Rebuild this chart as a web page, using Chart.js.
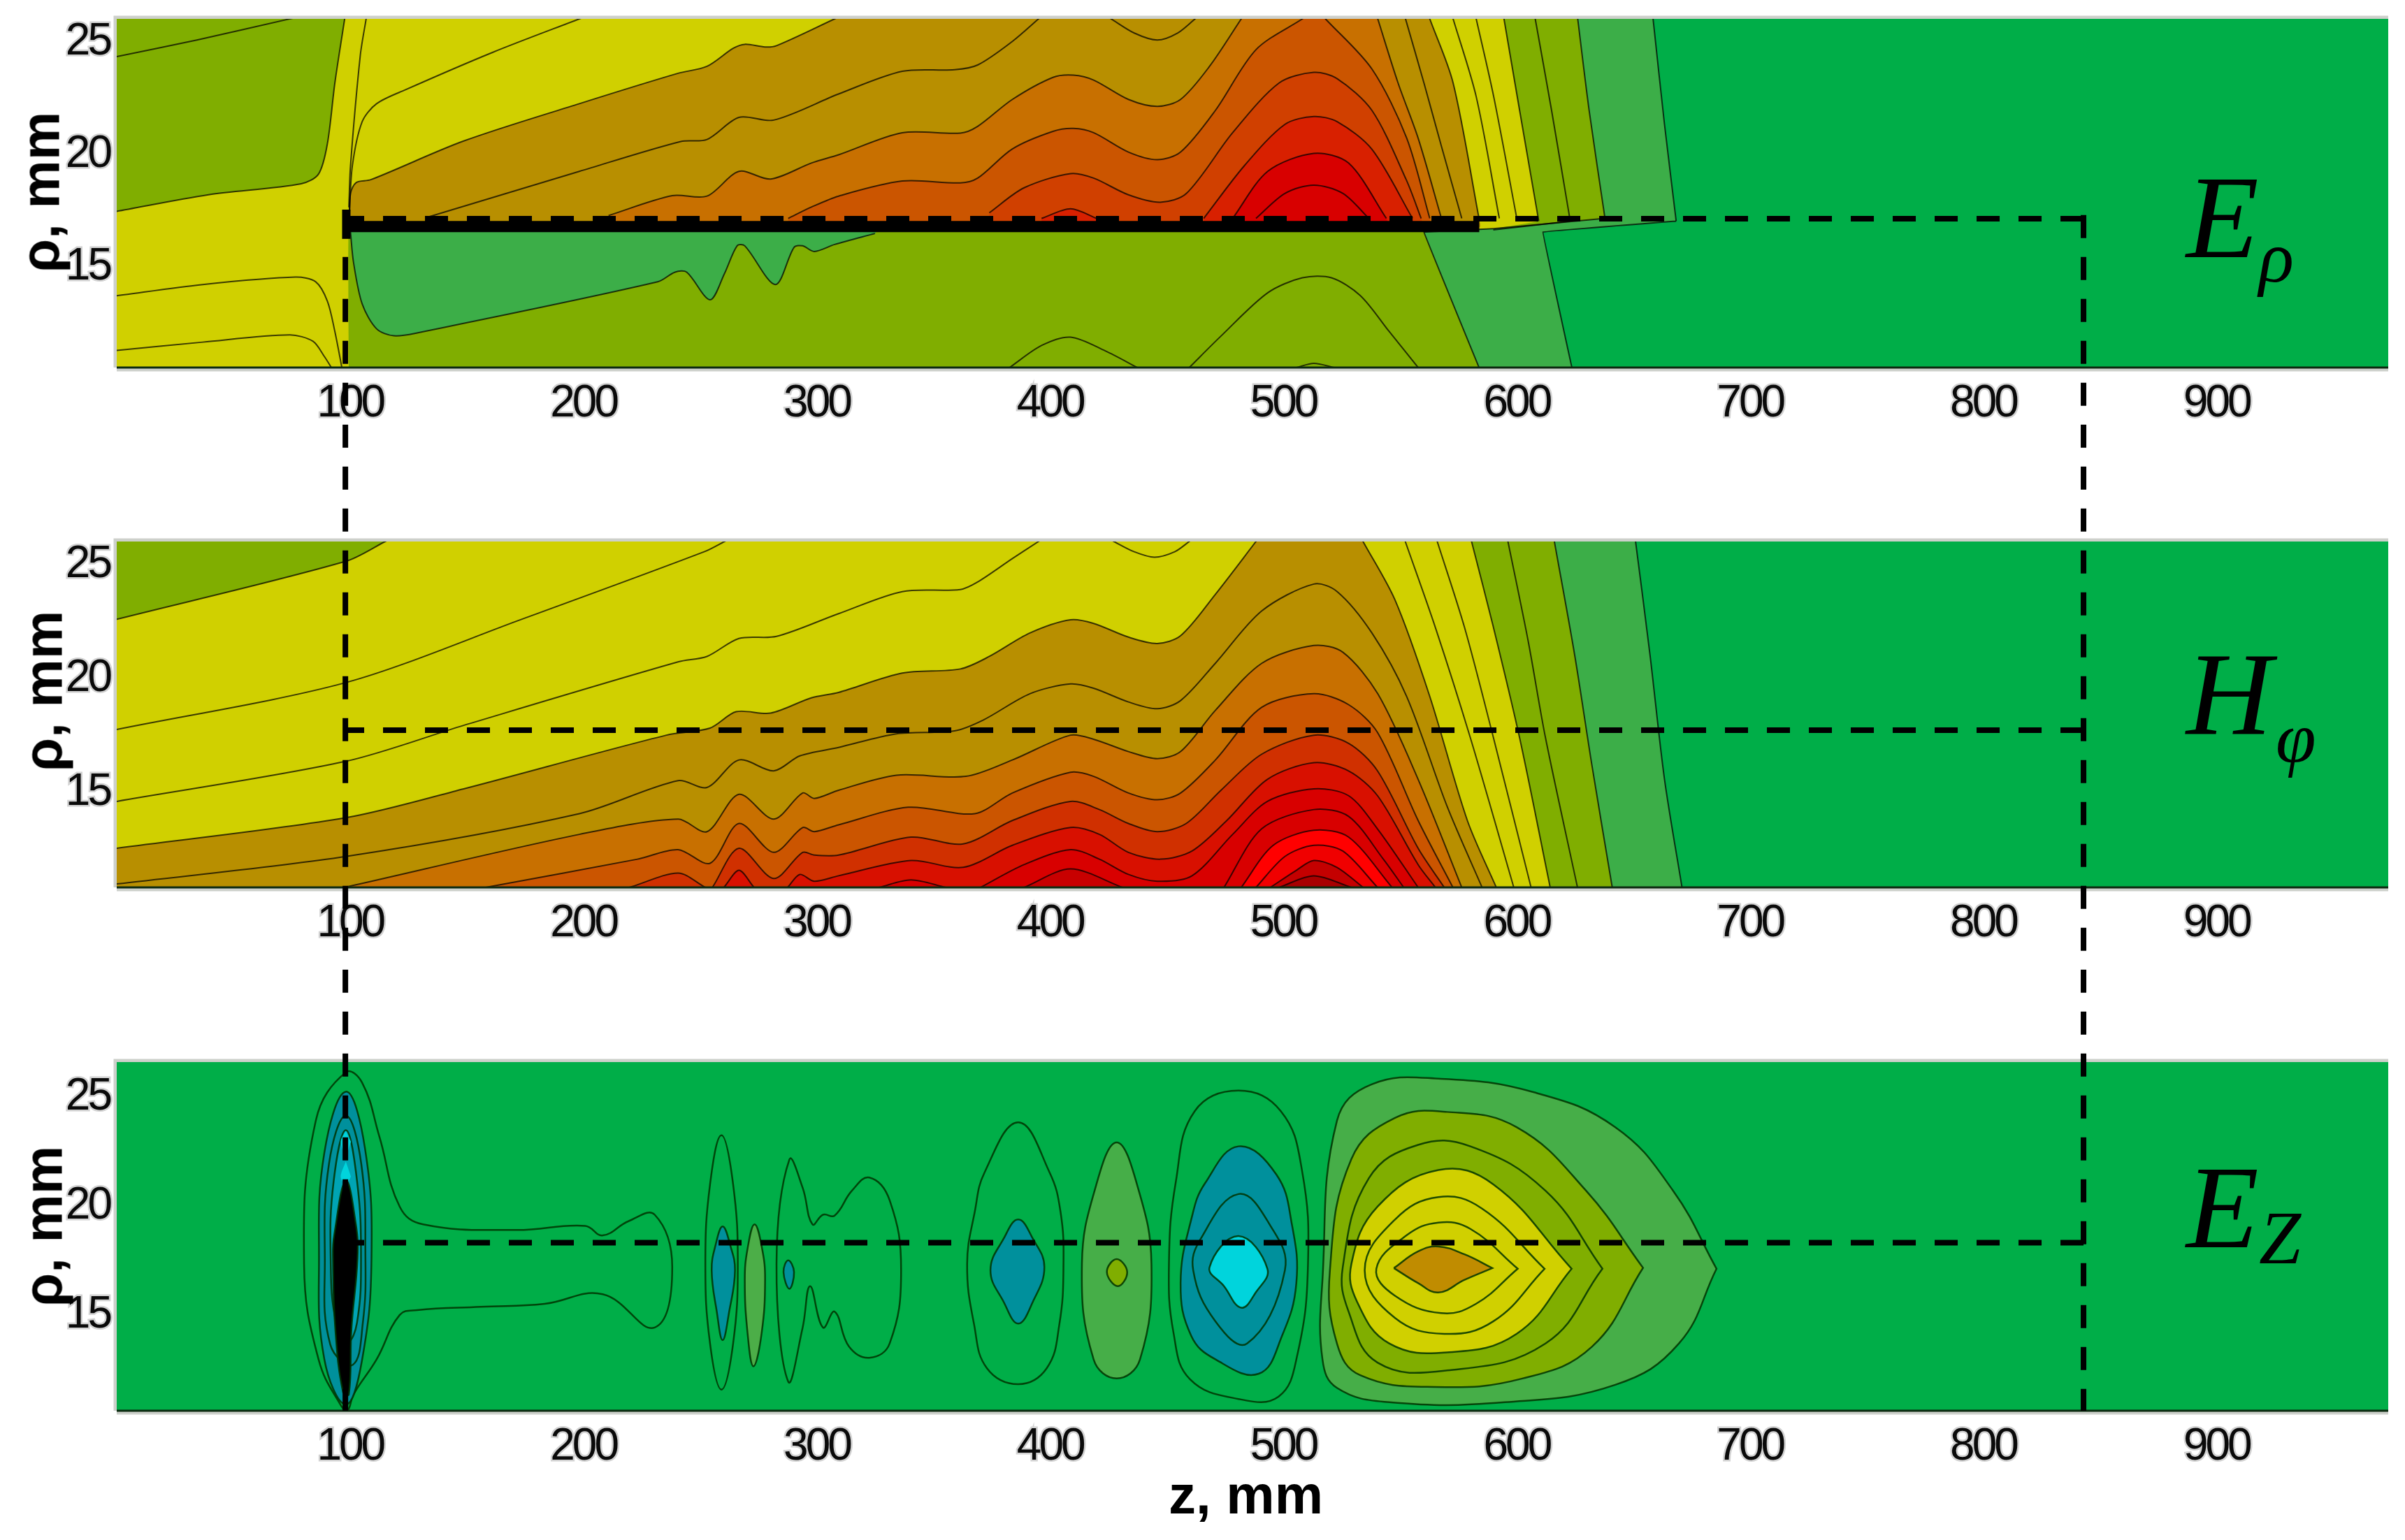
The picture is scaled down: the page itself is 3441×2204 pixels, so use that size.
<!DOCTYPE html>
<html>
<head>
<meta charset="utf-8">
<title>E and H field contours</title>
<script src="https://cdn.jsdelivr.net/npm/chart.js@4/dist/chart.umd.min.js"></script>
<style>
	html, body { margin: 0; padding: 0; background: #fff; }
	body { position: relative; width: 3441px; height: 2204px; overflow: hidden; }
	canvas { position: absolute; left: 0; }
	.lbl { position: absolute; white-space: nowrap; color: #000; line-height: 1; }
	.ttl { font: bold 78px "Liberation Sans", Arimo, sans-serif; transform: translate(-50%, -50%) rotate(-90deg); }
	.sym { font-family: "Liberation Serif", serif; font-style: italic; z-index: 6; }
</style>
</head>
<body>
<canvas id="guides" width="3441" height="2204" style="top:0;z-index:5"></canvas>
<canvas id="chart-er" width="3441" height="609" style="top:7px"></canvas>
<canvas id="chart-hf" width="3441" height="605" style="top:755px"></canvas>
<canvas id="chart-ez" width="3441" height="609" style="top:1500px"></canvas>

<div class="lbl ttl" style="left:58px;top:275px">ρ, mm</div>
<div class="lbl ttl" style="left:62px;top:989px">ρ, mm</div>
<div class="lbl ttl" style="left:62px;top:1755px">ρ, mm</div>
<div class="lbl" style="left:1672px;top:2094px;font:bold 78px 'Liberation Sans',sans-serif">z, mm</div>

<div class="lbl sym" style="left:3128px;top:226px;font-size:170px">E</div>
<div class="lbl sym" style="left:3232px;top:316px;font-size:104px">ρ</div>
<div class="lbl sym" style="left:3128px;top:908px;font-size:170px">H</div>
<div class="lbl sym" style="left:3256px;top:1004px;font-size:104px">φ</div>
<div class="lbl sym" style="left:3128px;top:1643px;font-size:170px">E</div>
<div class="lbl sym" style="left:3232px;top:1718px;font-size:108px">Z</div>

<script>
'use strict';

const zTicks = [100, 200, 300, 400, 500, 600, 700, 800, 900];
const rhoTicks = [15, 20, 25];
const zMax = 973.6;

// Level colours, from the outside of the field to the peak
const cGreen = '#00ae48';
const cMid = '#3cae48';
const cOlive = '#80ae00';
const cYellow = '#d0d000';
const cBrown = '#b88f00';
const cOrange = '#c87000';
const cBurnt = '#cb5500';
const cScarlet = '#d03000';
const cVermil = '#d81000';
const cRed = '#d80000';
const cBright = '#ff0000';
const cDeep = '#c40000';
const cDark = '#a80000';
const cTeal = '#00909c';
const cTeal2 = '#00a4b4';
const cCyan = '#00d4dc';

// ---- E rho: contours as [z, rho] ----
const erThin = [[0, 24.2], [34.4, 24.94], [73.4, 25.86]];
const erOliveEdge = [[0, 17.32], [39.3, 18.06], [79.1, 18.55], [86.5, 18.98], [90.3, 20.33], [93.5, 23.03], [97.7, 25.88]];
const erLowA = [[0, 13.57], [36.9, 14.07], [76.6, 14.4], [85.3, 14.19], [90.3, 13.33], [93.5, 11.98], [96.5, 10.38]];
const erLowB = [[0, 11.14], [36.9, 11.51], [74.1, 11.83], [84.1, 11.55], [89, 10.87], [92, 10.38]];
const erNearA = [[99.5, 17.5], [100.2, 19.35], [104.4, 24.26], [106.9, 25.88]];
const erNearB = [[99.7, 17.14], [101, 19.35], [105.2, 21.31], [111.4, 22.11], [123.8, 22.73], [161.1, 24.39], [198.3, 25.88]];
const erLevel1 = [[99.7, 17.01], [100.2, 18.12], [102.7, 18.61], [108.9, 18.73], [148.7, 20.45], [198.3, 22.11], [240.6, 23.46], [253, 23.77], [264.2, 24.57], [269.2, 24.75], [277.9, 24.63], [282.8, 24.69], [307.7, 25.88]];
const erLevel2 = [[133.8, 17.08], [198.3, 19.1], [241.8, 20.43], [253, 20.52], [266.7, 21.5], [281.6, 21.38], [309.4, 22.54], [336.7, 23.55], [359.1, 23.62], [369, 23.83], [383.9, 24.88], [395.1, 25.88]];
const erDip = [[426.2, 25.88], [436.1, 25.25], [446, 24.94], [454.7, 25.25], [462.2, 25.88]];
const erLevel3 = [[210.8, 17.14], [238.1, 18.02], [253, 18], [266.7, 19.1], [280.3, 18.76], [297.7, 19.47], [309.4, 19.84], [336.7, 20.82], [361.6, 20.8], [369, 21.1], [383.9, 22.3], [401.3, 23.28], [410, 23.38], [418.7, 23.16], [433.6, 22.3], [446, 21.99], [456, 22.3], [468.4, 23.77], [482, 25.88]];
const erLevel4 = [[287.8, 17.01], [297.7, 17.51], [309.4, 18], [336.7, 18.67], [361.6, 18.59], [369, 18.8], [383.9, 20.1], [401.3, 20.88], [410, 21.01], [418.7, 20.82], [433.6, 19.96], [446, 19.62], [456, 19.96], [470.9, 21.81], [488.3, 24.51], [508.2, 25.88]];
const erLevel5 = [[374, 17.26], [388.9, 18.37], [408.8, 19], [418.7, 18.8], [433.6, 18.06], [447.3, 17.73], [458.5, 18.12], [478.3, 20.82], [498.2, 23.03], [513.1, 23.5], [523.1, 23.22], [538, 21.81], [552.7, 18.73], [559.1, 17.01]];
const erLevel6 = [[465.9, 17.01], [483.3, 19.35], [500.7, 21.19], [513.1, 21.54], [523.1, 21.31], [538, 20.08], [555.4, 17.01]];
const erLevel6b = [[396.4, 17.01], [408.8, 17.44], [420, 17.01]];
const erLevel7 = [[478.3, 17.01], [493.3, 19.1], [513.1, 19.9], [528, 19.47], [544.2, 17.01]];
const erLevel8 = [[488.3, 17.01], [500.7, 18.12], [513.1, 18.49], [525.6, 18.12], [536.7, 17.01]];
const erFall4 = [[518.1, 25.88], [538, 23.65], [552.9, 20.58], [562.8, 17.01]];
const erFall3 = [[540.5, 25.88], [549.2, 23.03], [557.8, 20.58], [567.8, 17.01]];
const erFall2 = [[552.4, 25.88], [560.3, 23.03], [567.8, 20.21], [576.5, 17.01]];
const erFall1 = [[562.8, 25.88], [572.8, 23.03], [583.9, 17.01]];
const erFallY1 = [[572.8, 25.88], [582.7, 22.42], [592.6, 17.01]];
const erFallY2 = [[582.7, 25.88], [590.2, 22.42], [600.1, 17.01]];
const erFallY3 = [[594.6, 25.88], [601.3, 21.81], [609.5, 16.89]];
const erFallO1 = [[608, 25.88], [615, 21.81], [623, 16.89]];
const erFallO2 = [[626.2, 25.88], [631.1, 21.81], [637.9, 17.01]];
const erFallM = [[658.5, 25.88], [663.4, 21.19], [668.4, 16.89]];
const erKneeM = [[668.4, 16.89], [611.3, 16.4], [623.7, 10.38]];
const erKneeO = [[637.9, 17.01], [590, 16.55], [560.3, 16.4], [583.9, 10.38]];
const erKneeY = [[623, 16.89], [590, 16.5]];
const erYellowFoot = [[590, 16.55], [99.5, 16.55], [99.5, 10.38]];
const erLowMid = [[100.2, 16.4], [101.5, 15.05], [105.2, 13.21], [111.4, 12.1], [118.8, 11.79], [128.8, 11.92], [231.9, 14.19], [239.3, 14.62], [244.3, 14.62], [254.3, 13.39], [260.5, 14.56], [265.9, 15.79], [269.2, 15.79], [282.3, 14.07], [290.3, 15.72], [294, 15.79], [299, 15.54], [307.7, 15.85], [325, 16.34]];
const erLowMidTop = [[325, 16.6], [100, 16.6]];
const erBump = [[382.7, 10.38], [396.4, 11.36], [408.8, 11.73], [423.7, 11.12], [437.4, 10.38]];
const erArch = [[459.7, 10.38], [473.4, 11.79], [493.3, 13.7], [508.2, 14.37], [520.6, 14.37], [533, 13.58], [545.4, 11.98], [557.8, 10.38]];
const erTiny = [[505.7, 10.38], [513.1, 10.57], [521.8, 10.38]];
const erBar = [[99, 16.65], [584, 16.65]];
const erBarEnd = [[98.4, 16.1], [98.4, 17.4]];
const erDash = [[843, 17], [98, 17]];

// ---- H phi ----
const hfOliveEdge = [[0, 22.45], [98.2, 25], [115.1, 25.87]];
const hfLine1 = [[0, 17.61], [98.2, 19.67], [173.5, 22.45], [251.8, 25.42], [260.5, 25.87]];
const hfLine2 = [[0, 14.45], [98.2, 16.21], [148.7, 17.79], [240.6, 20.58], [253, 20.82], [266.7, 21.61], [282.8, 21.7], [309.4, 22.7], [336.7, 23.67], [361.6, 23.76], [369, 24.09], [383.9, 25.12], [395.1, 25.87]];
const hfDip = [[427.4, 25.87], [436.1, 25.42], [444.8, 25.18], [453.5, 25.42], [459.7, 25.87]];
const hfBrown = [[0, 12.39], [98.2, 13.73], [148.7, 15], [235.6, 17.36], [254.3, 17.67], [265.5, 18.39], [280.3, 18.33], [297.7, 19], [309.4, 19.24], [336.7, 20.09], [361.6, 20.27], [374, 20.82], [391.4, 21.85], [408.8, 22.43], [418.7, 22.27], [433.6, 21.67], [446, 21.39], [456, 21.73], [470.9, 23.55], [488.3, 25.87]];
const hfBrownFall = [[534.2, 25.87], [547.9, 23.3], [562.8, 19.06], [578.9, 13.61], [591.3, 10.67]];
const hfLine4 = [[0, 10.82], [98.2, 12.03], [198.3, 13.91], [240.6, 15.36], [253, 15.06], [266.7, 16.27], [281.6, 15.79], [292.8, 16.45], [309.4, 16.82], [334.2, 17.42], [359.1, 17.55], [371.5, 18.03], [391.4, 19.18], [408.8, 19.61], [418.7, 19.42], [433.6, 18.82], [446, 18.52], [456, 18.88], [470.9, 20.52], [490.8, 22.82], [513.1, 24], [523.1, 23.67], [538, 21.85], [552.9, 19.06], [570.3, 14.21], [585.2, 10.67]];
const hfOrange = [[101.5, 10.76], [198.3, 13], [240.6, 13.67], [253, 13.12], [266.7, 14.76], [281.6, 13.67], [294, 14.82], [299, 14.58], [309.4, 14.94], [334.2, 15.6], [364, 15.55], [383.9, 16.27], [408.8, 17.36], [418.7, 17.18], [433.6, 16.64], [446, 16.33], [456, 16.64], [470.9, 18.45], [490.8, 20.52], [513.1, 21.3], [525.6, 21], [540.5, 19.18], [557.8, 15.42], [576.5, 10.67]];
const hfBurnt = [[159.8, 10.7], [223.2, 11.91], [240.6, 12.33], [254.3, 11.73], [266.7, 13.48], [281.6, 12.21], [294, 13.3], [299, 13.12], [309.4, 13.42], [339.2, 14.19], [367.8, 13.91], [383.9, 14.82], [408.8, 15.73], [418.7, 15.55], [433.6, 14.82], [446, 14.52], [456, 14.82], [470.9, 16.27], [490.7, 18.58], [513.1, 19.18], [528, 18.7], [540.4, 17.48], [557.8, 13.61], [572.7, 10.67]];
const hfScarlet = [[255.5, 10.7], [266.7, 12.39], [281.6, 11.06], [294, 12.21], [299, 12.09], [309.4, 12.09], [340.4, 12.88], [362.8, 12.58], [383.9, 13.61], [408.8, 14.45], [421.2, 14.09], [433.6, 13.48], [446, 13.12], [458.4, 13.48], [473.3, 14.94], [490.7, 16.52], [513.1, 17.36], [528, 17], [540.4, 15.79], [557.8, 12.39], [569, 10.67]];
const hfScarletB = [[220.7, 10.7], [240.6, 11.3], [251.8, 10.7]];
const hfVermil = [[287.8, 10.7], [292.8, 11.24], [299, 10.94], [309.4, 11.18], [340.4, 11.85], [362.8, 11.55], [383.9, 12.52], [408.8, 13.3], [421.2, 13], [433.6, 12.21], [447.3, 11.91], [460.9, 12.27], [475.8, 13.61], [493.2, 15.42], [513.1, 16.15], [528, 15.79], [540.4, 14.7], [557.8, 11.67], [565.2, 10.67]];
const hfVermilB = [[260.5, 10.7], [266.7, 11.42], [272.9, 10.7]];
const hfRed = [[370.3, 10.67], [388.9, 11.67], [408.8, 12.33], [421.2, 11.91], [433.6, 11.24], [446, 10.94], [460.9, 11.18], [478.3, 13], [493.2, 14.45], [513.1, 15], [528, 14.7], [540.4, 13.24], [557.8, 10.67]];
const hfRedB = [[326.8, 10.67], [340.4, 11], [355.4, 10.67]];
const hfPeak1 = [[474.6, 10.67], [490.7, 13.24], [513.1, 14.09], [528, 13.79], [542.9, 11.91], [551.6, 10.67]];
const hfPeak1b = [[388.9, 10.67], [408.8, 11.48], [431.1, 10.67]];
const hfPeak2 = [[482, 10.67], [495.7, 12.52], [513.1, 13.18], [528, 12.88], [546.6, 10.67]];
const hfPeak3 = [[488.3, 10.67], [500.7, 12.03], [513.1, 12.52], [525.5, 12.27], [540.4, 10.67]];
const hfPeak4 = [[494.5, 10.67], [505.6, 11.42], [513.1, 11.85], [523, 11.55], [534.2, 10.67]];
const hfPeak5 = [[498.2, 10.67], [513.1, 11.18], [529.2, 10.67]];
const hfFallY1 = [[552.3, 25.87], [565.2, 22.09], [580.2, 17.24], [598.8, 10.67]];
const hfFallY2 = [[566, 25.87], [577.7, 22.09], [590.1, 17.24], [606.2, 10.67]];
const hfFallY3 = [[580.7, 25.87], [590.1, 22.09], [601.3, 17.24], [614.4, 10.67]];
const hfFallO1 = [[596.3, 25.87], [605, 21.48], [612.4, 17.24], [626.1, 10.67]];
const hfFallO2 = [[616.2, 25.87], [624.9, 20.88], [632.3, 16.03], [641, 10.67]];
const hfFallM = [[651, 25.87], [657.2, 20.88], [663.4, 15.42], [670.9, 10.67]];
const hfDash = [[843, 17.58], [98, 17.58]];

// ---- E z: closed outlines, a repeated point is a sharp tip ----
const ezGlass = [[98.2, 25.99], [85.3, 23.76], [80.3, 17.19], [86.5, 12.81], [96.5, 10.62], [99, 10.47], [101.5, 11.2], [111.4, 12.81], [121.3, 14.85], [128.8, 15.07], [156.1, 15.22], [183.4, 15.36], [208.3, 15.8], [230.6, 14.27], [238.1, 17.04], [230.6, 19.45], [219.5, 19.16], [208.3, 18.5], [200.8, 18.94], [171, 18.75], [131.3, 19.01], [121.3, 19.82], [112.6, 23.03], [105.2, 25.51]];
const ezCore1 = [[98.2, 25.1], [89, 22.3], [86.7, 17.46], [89, 12.81], [98.2, 10.74], [105.2, 12.81], [109.2, 17.46], [106.4, 22.5]];
const ezCore2 = [[98.2, 24], [91, 21.8], [89.2, 17.46], [91.5, 13.5], [101.2, 12.56], [105.5, 14.5], [106.6, 17.46], [104.8, 21.8]];
const ezCore3 = [[98.2, 23.33], [93, 21], [91.7, 17.46], [94, 14.5], [99, 13.62], [103, 14.5], [104.7, 17.46], [103, 21]];
const ezCyanA = [[98.2, 23.3], [96, 22.8], [98.2, 22.2], [100.4, 22.8]];
const ezCyanB = [[98.2, 21.9], [96, 21.2], [98.2, 20.8], [100.4, 21.2]];
const ezBlack = [[98.2, 21], [93.2, 18.5], [92.7, 17.46], [93.7, 14.2], [97, 11.3], [99.5, 11.2], [100.6, 14.2], [103.2, 17.46], [102.5, 19]];
const ez260Line = [[259.2, 23.1], [254.3, 20.84], [252.3, 17.19], [254.3, 13.54], [259.2, 11.42], [264.2, 13.54], [266.2, 17.19], [264.2, 20.84]];
const ez260Fill = [[259.7, 18.91], [256.7, 18.07], [255, 16.9], [257.2, 15], [259.7, 13.69], [262.5, 15], [265, 16.9], [262.9, 18.07]];
const ez275Lens = [[273.4, 19.01], [270.4, 17.9], [269.2, 16.46], [270.4, 14], [272.9, 12.49], [276.4, 14], [277.9, 16.46], [276.6, 17.9]];
const ez310Line = [[288.3, 21.98], [282.8, 17.19], [287.8, 11.79], [294, 14.27], [297.2, 16.17], [302.7, 14.27], [307.7, 15], [313.9, 13.39], [322.6, 12.88], [331.3, 13.54], [336.2, 16.9], [331.3, 20.11], [322.6, 21.16], [315.1, 20.55], [307.7, 19.41], [302.7, 19.45], [298.2, 19.01], [294, 20.69]];
const ez288Fill = [[287.8, 17.36], [285.8, 16.82], [288.3, 16.05], [290.3, 16.82]];
const ez385Line = [[386.4, 23.69], [372, 21.4], [367.8, 19.6], [364.5, 17.19], [367.5, 14.4], [373, 12.4], [386.4, 11.67], [398.6, 12.4], [404, 14.4], [405.8, 17.19], [404.5, 19.6], [399.8, 21.4]];
const ez385Fill = [[386.4, 19.23], [380.2, 18.36], [374.5, 16.9], [380.2, 15.44], [386.4, 14.45], [392.6, 15.44], [397.6, 17.04], [392.6, 18.36]];
const ez430Lens = [[428.6, 22.77], [419.9, 20.84], [413.7, 17.19], [418.7, 12.81], [428.6, 11.93], [438.6, 12.81], [443.5, 17.19], [437.3, 20.84]];
const ez430Seed = [[428.6, 17.41], [424.4, 16.82], [429.1, 16.17], [433.1, 16.82]];
const ez480Line = [[480.8, 25.15], [462, 24.2], [454, 21], [451, 17.19], [453, 14], [460, 11.9], [480.8, 10.99], [498, 11.1], [506, 13], [510.6, 17.19], [508, 21.5], [499, 24.2]];
const ez480Teal = [[480.8, 22.59], [466.5, 20.9], [460.9, 19.38], [456, 16.31], [460.5, 13.9], [470.9, 12.81], [489.5, 12.15], [499.5, 13.9], [505.6, 16.31], [503.7, 19], [497, 21.3]];
const ez480Inner = [[480.8, 20.4], [464.7, 18.36], [461.4, 16.9], [470.9, 14.56], [484.5, 13.54], [500.7, 16.9], [494.5, 18.94]];
const ez480Cyan = [[480.8, 18.47], [468.4, 17.04], [474.6, 16.17], [482, 15.18], [488.2, 15.88], [493.2, 16.97]];
const ezPearMid = [[516.8, 16.46], [523, 23.76], [537.9, 25.44], [567.7, 25.69], [607.5, 25.07], [642.3, 23.47], [667.1, 20.55], [685.7, 16.97], [685.7, 16.97], [669.6, 13.54], [642.3, 11.64], [595, 10.84], [545.4, 10.84], [523, 11.5], [516.8, 12.81]];
const ezPearOlive = [[520, 16.9], [529.2, 22.01], [547.9, 23.9], [570.2, 24.17], [600, 23.47], [629.8, 20.55], [654.2, 17.01], [654.2, 17.01], [632.3, 13.39], [602.5, 11.93], [565.2, 11.54], [533, 12.08], [523, 13.54]];
const ezPearOliveIn = [[525.5, 17.04], [536.7, 21.13], [557.8, 22.66], [580.2, 22.59], [612.4, 20.55], [636.8, 16.97], [636.8, 16.97], [612.4, 13.54], [570.2, 12.3], [540.4, 12.66], [528, 15]];
const ezPearYellow = [[529.2, 17.19], [540.4, 19.82], [566.5, 21.5], [590.1, 20.84], [623.6, 16.97], [623.6, 16.97], [600, 13.98], [570.2, 13.13], [545.4, 13.54], [531.7, 15.44]];
const ezPearY2 = [[534.9, 16.9], [547.9, 19.23], [566.5, 20.26], [585.1, 19.74], [612, 16.97], [612, 16.97], [590.1, 14.56], [569, 13.98], [547.9, 14.71]];
const ezPearY3 = [[539.9, 16.97], [552.8, 18.5], [566.5, 19.09], [580.2, 18.8], [600.5, 16.97], [600.5, 16.97], [582.6, 15.36], [567.7, 14.93], [547.9, 15.73]];
const ezPearBrown = [[547.4, 17], [547.4, 17], [557.8, 17.77], [566.5, 17.99], [577.7, 17.63], [589.6, 17], [589.6, 17], [577.7, 16.46], [566.5, 15.88], [557.8, 16.31]];
const ezDash = [[843, 18.17], [98, 18.17]];

// Guides that cross all panels: z, and rows from the top of the first panel (0) to the bottom of the last (1)
const guideZ = [98, 843];
const guideRows = [0.141, 1];

// Closing points sit well off the plot so that fills and contour lines share one spline
const OFF_LOW = -30;
const OFF_HIGH = 60;
const OFF_LEFT = -400;
const OFF_RIGHT = 1500;
const EDGE_HIGH = 25.8;
const EDGE_LOW = 10.8;

function leavesPlot(p) {
	return p[1] >= EDGE_HIGH || p[1] <= EDGE_LOW || p[0] <= 0;
}
function beyond(p, inner) {
	return [2 * p[0] - inner[0], 2 * p[1] - inner[1]];
}
// Runs an open contour on past the plot edge, in its own direction, wherever it leaves the plot
function extended(pts) {
	const n = pts.length;
	const head = leavesPlot(pts[0]) ? [beyond(pts[0], pts[1])] : [];
	const tail = leavesPlot(pts[n - 1]) ? [beyond(pts[n - 1], pts[n - 2])] : [];
	return [...head, ...pts, ...tail];
}
function leftOf() {
	const pts = extended([].concat(...arguments));
	const a = pts[0], b = pts[pts.length - 1];
	return [...pts, [b[0], OFF_LOW], [OFF_LEFT, OFF_LOW], [OFF_LEFT, OFF_HIGH], [a[0], OFF_HIGH]];
}
function under(curve, floor) {
	const lo = floor === undefined ? OFF_LOW : floor;
	const pts = extended(curve);
	return [...pts, [pts[pts.length - 1][0], lo], [pts[0][0], lo]];
}
function arch(left, right, floor) {
	const lo = floor === undefined ? OFF_LOW : floor;
	const l = extended(left), r = extended(right);
	return [...l, [l[l.length - 1][0], OFF_HIGH], [r[0][0], OFF_HIGH], ...r, [r[r.length - 1][0], lo], [l[0][0], lo]];
}
function wrapped(pts) {
	const n = pts.length;
	return [pts[n - 1], ...pts, pts[0], pts[1]];
}

function toPoints(pts) {
	return pts.map(function(p) { return { x: p[0], y: p[1] }; });
}
function area(pts, color, tension) {
	return { data: toPoints(pts), showLine: true, fill: 'shape', backgroundColor: color, borderWidth: 0, pointRadius: 0, tension: tension === undefined ? 0.3 : tension };
}
function contour(pts, color, width) {
	return { data: toPoints(extended(pts)), showLine: true, fill: false, borderColor: color || 'rgba(0,0,0,0.72)', borderWidth: width || 2, pointRadius: 0, tension: 0.3 };
}
function kink(pts) {
	return Object.assign(contour(pts), { tension: 0.01 });
}
const LINE_Z = 'rgba(0,50,0,0.85)';
function ringLine(pts) {
	// first and last pieces of the wrapped list are only there to smooth the join
	const n = pts.length;
	return {
		data: toPoints(wrapped(pts)), showLine: true, fill: false, borderColor: LINE_Z, borderWidth: 2.5, pointRadius: 0, tension: 0.42,
		segment: { borderColor: function(ctx) { return (ctx.p0DataIndex === 0 || ctx.p0DataIndex === n + 1) ? 'rgba(0,0,0,0)' : undefined; } }
	};
}
function blob(pts, color) {
	return [area(wrapped(pts), color, 0.42), ringLine(pts)];
}
function dashed(pts) {
	return { data: toPoints(pts), showLine: true, fill: false, borderColor: '#000', borderWidth: 8, borderDash: [33, 27], pointRadius: 0, tension: 0 };
}
function solid(pts, width) {
	return { data: toPoints(pts), showLine: true, fill: false, borderColor: '#000', borderWidth: width, pointRadius: 0, tension: 0 };
}
function background() {
	return area([[OFF_LEFT, OFF_LOW], [OFF_RIGHT, OFF_LOW], [OFF_RIGHT, OFF_HIGH], [OFF_LEFT, OFF_HIGH]], cGreen, 0.01);
}
// Grey halo on three sides and the dark base line
function frame(yMin, yMax) {
	return [
		{ data: toPoints([[0, yMin], [0, yMax], [zMax, yMax]]), showLine: true, fill: false, borderColor: '#cdd0cb', borderWidth: 9, pointRadius: 0, tension: 0, clip: false },
		{ data: toPoints([[0, yMin], [zMax, yMin]]), showLine: true, fill: false, borderColor: '#cdd0cb', borderWidth: 11, pointRadius: 0, tension: 0, clip: false }
	];
}
function baseLine(yMin) {
	return { data: toPoints([[0, yMin], [zMax, yMin]]), showLine: true, fill: false, borderColor: '#0c2a10', borderWidth: 3, pointRadius: 0, tension: 0, clip: false };
}

const tickFont = { family: '"Liberation Sans", sans-serif', size: 64 };

// digits of the reference are tightly set
const tightDigits = {
	id: 'tightDigits',
	beforeLayout: function(chart) { chart.ctx.letterSpacing = '-4px'; },
	beforeDraw: function(chart) { chart.ctx.letterSpacing = '-4px'; }
};

function makePanel(id, yMin, yMax, layers) {
	const ctx = document.getElementById(id).getContext('2d');
	// first in the list is painted first
	const datasets = layers.slice().reverse();
	return new Chart(ctx, {
		type: 'scatter',
		data: { datasets: datasets },
		plugins: [tightDigits],
		options: {
			responsive: false,
			animation: false,
			events: [],
			layout: { padding: { top: 20, right: 24, left: 0, bottom: 0 } },
			plugins: { legend: { display: false }, tooltip: { enabled: false } },
			scales: {
				x: {
					type: 'linear', min: 0, max: zMax,
					afterBuildTicks: function(s) { s.ticks = zTicks.map(function(v) { return { value: v }; }); },
					afterFit: function(s) { s.height = 90; s.paddingLeft = 0; s.paddingRight = 0; },
					grid: { display: false, drawTicks: false },
					border: { display: false },
					ticks: { color: '#0a0a0a', font: tickFont, padding: 14, maxRotation: 0, autoSkip: false, textStrokeColor: '#d2d2d2', textStrokeWidth: 5 }
				},
				y: {
					type: 'linear', min: yMin, max: yMax,
					afterBuildTicks: function(s) { s.ticks = rhoTicks.map(function(v) { return { value: v }; }); },
					afterFit: function(s) { s.width = 167; s.paddingTop = 0; s.paddingBottom = 0; },
					grid: { display: false, drawTicks: false },
					border: { display: false },
					ticks: { color: '#0a0a0a', font: tickFont, padding: 10, labelOffset: 5, autoSkip: false, textStrokeColor: '#d2d2d2', textStrokeWidth: 5 }
				}
			}
		}
	});
}

// E rho panel
makePanel('chart-er', 10.38, 25.88, [
	...frame(10.38, 25.88),
	background(),
	area(leftOf(erFallM, erKneeM.slice(1)), cMid, 0.01),
	area(leftOf(erFallO2, erKneeO.slice(1)), cOlive, 0.01),
	area([...erLowMid, ...erLowMidTop], cMid),
	area(leftOf(erFallY3, erYellowFoot), cYellow, 0.01),
	area([...extended(erOliveEdge), [OFF_LEFT, OFF_HIGH], [OFF_LEFT, 17.32]], cOlive),
	area(arch(erLevel1, erFall1, 16.6), cBrown),
	area(arch(erLevel3, erFall3, 16.6), cOrange),
	area(arch(erLevel4, erFall4, 16.6), cBurnt),
	area(under(erLevel5, 16.6), '#d04000'),
	area(under(erLevel6b, 16.6), '#d82000'),
	area(under(erLevel6, 16.6), '#d82000'),
	area(under(erLevel7, 16.6), cRed),
	contour(erThin), contour(erOliveEdge), contour(erLowA), contour(erLowB), contour(erNearA), contour(erNearB),
	contour(erLevel1), contour(erLevel2), contour(erDip), contour(erLevel3), contour(erLevel4), contour(erLevel5),
	contour(erLevel6), contour(erLevel6b), contour(erLevel7), contour(erLevel8),
	contour(erFall4), contour(erFall3), contour(erFall2), contour(erFall1), contour(erFallY1), contour(erFallY2),
	contour(erFallY3), contour(erFallO1), contour(erFallO2), contour(erFallM), kink(erKneeM), kink(erKneeO), kink(erKneeY),
	contour(erLowMid), contour(erBump), contour(erArch), contour(erTiny),
	baseLine(10.38),
	solid(erBar, 16), solid(erBarEnd, 12), dashed(erDash)
]);

// H phi panel
makePanel('chart-hf', 10.67, 25.87, [
	...frame(10.67, 25.87),
	background(),
	area(leftOf(hfFallM), cMid),
	area(leftOf(hfFallO2), cOlive),
	area(leftOf(hfFallY3), cYellow),
	area([...extended(hfOliveEdge), [OFF_LEFT, OFF_HIGH], [OFF_LEFT, 22.45]], cOlive),
	area(arch(hfBrown, hfBrownFall), cBrown),
	area(under(hfOrange), cOrange),
	area(under(hfBurnt), cBurnt),
	area(under(hfScarlet), cScarlet), area(under(hfScarletB), cScarlet),
	area(under(hfVermil), cVermil), area(under(hfVermilB), cVermil),
	area(under(hfRed), cRed), area(under(hfRedB), cRed),
	area(under(hfPeak1), '#d80000'), area(under(hfPeak1b), '#c80000'),
	area(under(hfPeak2), cBright),
	area(under(hfPeak3), '#f00000'),
	area(under(hfPeak4), cDeep),
	area(under(hfPeak5), cDark),
	contour(hfOliveEdge), contour(hfLine1), contour(hfLine2), contour(hfDip), contour(hfBrown), contour(hfBrownFall), contour(hfLine4),
	contour(hfOrange), contour(hfBurnt), contour(hfScarlet), contour(hfScarletB), contour(hfVermil), contour(hfVermilB),
	contour(hfRed), contour(hfRedB), contour(hfPeak1), contour(hfPeak1b), contour(hfPeak2), contour(hfPeak3), contour(hfPeak4), contour(hfPeak5),
	contour(hfFallY1), contour(hfFallY2), contour(hfFallY3), contour(hfFallO1), contour(hfFallO2), contour(hfFallM),
	baseLine(10.67),
	dashed(hfDash)
]);

// E z panel
makePanel('chart-ez', 10.45, 26.46, [
	...frame(10.45, 26.46),
	background(),
	ringLine(ezGlass),
	...blob(ezCore1, cTeal), ...blob(ezCore2, cTeal), ...blob(ezCore3, cTeal2),
	area(ezCyanA, cCyan), area(ezCyanB, cCyan),
	...blob(ezBlack, '#000'),
	ringLine(ez260Line), ...blob(ez260Fill, cTeal), ...blob(ez275Lens, '#4cae48'), ringLine(ez310Line), ...blob(ez288Fill, cTeal),
	ringLine(ez385Line), ...blob(ez385Fill, cTeal), ...blob(ez430Lens, '#46ae48'), ...blob(ez430Seed, cOlive),
	ringLine(ez480Line), ...blob(ez480Teal, cTeal), ...blob(ez480Inner, cTeal), ...blob(ez480Cyan, cCyan),
	...blob(ezPearMid, '#46ae48'), ...blob(ezPearOlive, cOlive), ...blob(ezPearOliveIn, cOlive), ...blob(ezPearYellow, cYellow),
	...blob(ezPearY2, cYellow), ...blob(ezPearY3, cYellow), ...blob(ezPearBrown, '#c08c00'),
	baseLine(10.45),
	dashed(ezDash)
]);

// The two vertical guides run over the white space too, so they get a chart of their own on top
new Chart(document.getElementById('guides').getContext('2d'), {
	type: 'scatter',
	data: {
		datasets: guideZ.map(function(z) {
			return dashed(guideRows.map(function(r) { return [z, r]; }));
		})
	},
	options: {
		responsive: false,
		animation: false,
		events: [],
		layout: { padding: { top: 27, right: 24, left: 167, bottom: 185 } },
		plugins: { legend: { display: false }, tooltip: { enabled: false } },
		scales: {
			x: { type: 'linear', min: 0, max: zMax, display: false },
			y: { type: 'linear', min: 0, max: 1, reverse: true, display: false }
		}
	}
});
</script>
</body>
</html>
